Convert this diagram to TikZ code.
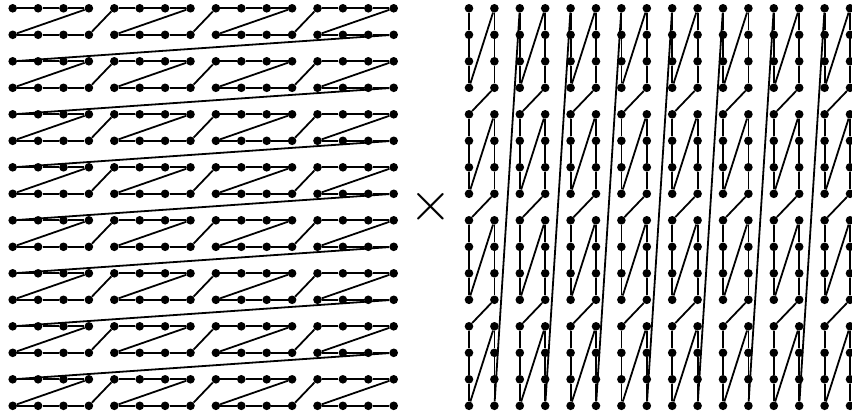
\documentclass[tikz,border=0pt]{standalone}
\usepackage{graphicx}
\tikzset{
  dot/.style={circle,fill=black,inner sep=0pt,minimum size=8.6pt},
  link/.style={line width=1.8pt,black}
}
\begin{document}
\begin{tikzpicture}[x=1pt,y=-1pt]
\useasboundingbox (0,0) rectangle (852,415);
% dots
\foreach \i in {0,...,15}{\foreach \j in {0,...,15}{
  \node[dot] (L-\i-\j) at ({12.7+25.4*\i},{8.3+26.5*\j}) {};
  \node[dot] (R-\i-\j) at ({469+25.4*\i},{8.3+26.5*\j}) {};
}}
% straight runs
\foreach \j in {0,...,15}{\foreach \g in {0,...,3}{\foreach \k in {0,1,2}{
  \pgfmathtruncatemacro\a{4*\g+\k}\pgfmathtruncatemacro\b{\a+1}
  \draw[link] (L-\a-\j) -- (L-\b-\j);
  \draw[link] (R-\j-\a) -- (R-\j-\b);
}}}
% Z diagonals inside a block
\foreach \p in {0,...,7}{\foreach \g in {0,...,3}{
  \pgfmathtruncatemacro\a{4*\g+3}\pgfmathtruncatemacro\b{4*\g}
  \pgfmathtruncatemacro\t{2*\p}\pgfmathtruncatemacro\u{2*\p+1}
  \draw[link] (L-\a-\t) -- (L-\b-\u);
  \draw[link] (R-\t-\a) -- (R-\u-\b);
}}
% links between blocks
\foreach \p in {0,...,7}{\foreach \g in {0,1,2}{
  \pgfmathtruncatemacro\a{4*\g+3}\pgfmathtruncatemacro\c{4*\g+4}
  \pgfmathtruncatemacro\t{2*\p}\pgfmathtruncatemacro\u{2*\p+1}
  \draw[link] (L-\a-\u) -- (L-\c-\t);
  \draw[link] (R-\u-\a) -- (R-\t-\c);
}}
% long links between pairs
\foreach \p in {0,...,6}{
  \pgfmathtruncatemacro\u{2*\p+1}\pgfmathtruncatemacro\v{2*\p+2}
  \draw[link] (L-15-\u) -- (L-0-\v);
  \draw[link] (R-\u-15) -- (R-\v-0);
}
\node[inner sep=0pt] (times) at (431,207) {\scalebox{5.5}{$\times$}};
\end{tikzpicture}
\end{document}
